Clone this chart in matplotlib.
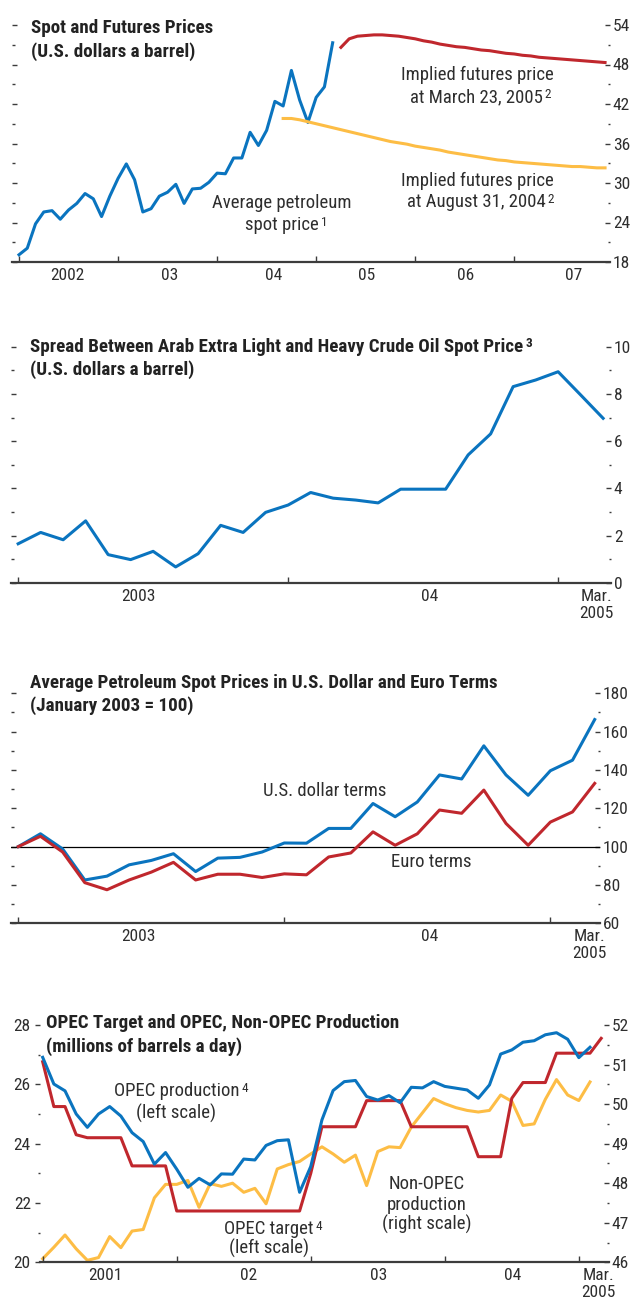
import matplotlib
matplotlib.use('Agg')
import matplotlib.pyplot as plt
import numpy as np
from matplotlib import font_manager as fm

# ---------------- data ----------------
# panel 1, monthly; month 0 = Jan 2002
spot_price = [19.1, 20.1, 23.8, 25.6, 25.8, 24.5, 25.9, 26.9, 28.4, 27.6, 24.9, 28.0,
              30.7, 32.9, 30.5, 25.6, 26.1, 28.0, 28.6, 29.8, 26.9, 29.1, 29.2, 30.1,
              31.5, 31.4, 33.8, 33.8, 37.7, 35.7, 38.0, 42.4, 41.7, 47.1, 42.6, 39.2,
              43.0, 44.6, 51.3]
futures_mar05 = [50.6, 51.9, 52.3, 52.4, 52.5, 52.5, 52.4, 52.3, 52.1, 51.9,
                 51.6, 51.4, 51.1, 50.9, 50.7, 50.6, 50.4, 50.2, 50.1, 49.9,
                 49.7, 49.6, 49.4, 49.3, 49.1, 49.0, 48.9, 48.8, 48.7, 48.6,
                 48.5, 48.4, 48.3]  # Apr 2005 - Dec 2007
futures_aug04 = [39.8, 39.8, 39.6, 39.3, 39.0, 38.7, 38.4, 38.1, 37.8, 37.5,
                 37.2, 36.9, 36.6, 36.3, 36.1, 35.9, 35.6, 35.4, 35.2, 35.0,
                 34.7, 34.5, 34.3, 34.1, 33.9, 33.7, 33.5, 33.4, 33.2, 33.1,
                 33.0, 32.9, 32.8, 32.7, 32.6, 32.5, 32.5, 32.4, 32.3, 32.3]  # Sep 2004 - Dec 2007
p1_years = ['2002', '03', '04', '05', '06', '07']

# panel 2, month 0 = Jan 2003
spread = [1.66, 2.14, 1.83, 2.63, 1.20, 0.99, 1.34, 0.68, 1.24, 2.44, 2.14, 2.99,
          3.30, 3.83, 3.59, 3.51, 3.39, 3.97, 3.97, 3.97, 5.42, 6.31, 8.31, 8.59,
          8.94, 7.96, 6.97]

# panel 3, month 0 = Jan 2003
usd_index = [100.0, 106.7, 98.8, 82.6, 84.6, 90.5, 92.8, 96.3, 87.0, 94.0, 94.4, 97.2,
             101.9, 101.8, 109.5, 109.5, 122.5, 115.6, 123.3, 137.4, 135.3, 152.6,
             137.4, 126.8, 139.6, 145.1, 166.3]
euro_index = [100.0, 105.4, 97.2, 81.2, 77.5, 82.6, 86.7, 91.8, 82.6, 85.6, 85.6, 83.9,
              85.8, 85.3, 94.6, 96.7, 107.7, 100.7, 106.7, 119.1, 117.4, 129.5,
              112.1, 100.7, 112.8, 118.1, 133.0]
p23_years = ['2003', '04', 'Mar.\n2005']

# panel 4, month 0 = Jan 2001
opec_prod = [26.91, 26.01, 25.78, 25.00, 24.55, 25.00, 25.25, 24.93, 24.37, 24.07,
             23.31, 23.70, 23.14, 22.53, 22.83, 22.61, 22.98, 22.97, 23.48, 23.45,
             23.94, 24.10, 24.13, 22.36, 23.23, 24.80, 25.79, 26.09, 26.13, 25.59,
             25.47, 25.62, 25.38, 25.90, 25.88, 26.09, 25.93, 25.87, 25.81, 25.53,
             25.98, 27.02, 27.16, 27.42, 27.47, 27.67, 27.74, 27.52, 26.90, 27.25]
opec_target = [26.76, 25.25, 25.25, 24.3, 24.2, 24.2, 24.2, 24.2, 23.25, 23.25,
               23.25, 23.25, 21.73, 21.73, 21.73, 21.73, 21.73, 21.73, 21.73, 21.73,
               21.73, 21.73, 21.73, 21.73, 23.0, 24.57, 24.57, 24.57, 24.57, 25.45,
               25.45, 25.45, 25.45, 24.57, 24.57, 24.57, 24.57, 24.57, 24.57, 23.56,
               23.56, 23.56, 25.53, 26.06, 26.06, 26.06, 27.05, 27.05, 27.05, 27.05,
               27.55]
non_opec = [46.09, 46.38, 46.69, 46.34, 46.05, 46.12, 46.65, 46.37, 46.79, 46.83,
            47.63, 47.97, 47.97, 48.07, 47.39, 47.99, 47.92, 48.00, 47.77, 47.87,
            47.48, 48.36, 48.47, 48.55, 48.74, 48.92, 48.74, 48.53, 48.71, 47.94,
            48.80, 48.92, 48.90, 49.42, 49.78, 50.14, 50.01, 49.91, 49.84, 49.80,
            49.84, 50.23, 50.07, 49.46, 49.50, 50.12, 50.62, 50.23, 50.09, 50.56]
p4_years = ['2001', '02', '03', '04', 'Mar.\n2005']

# ---------------- fonts ----------------
names = {f.name for f in fm.fontManager.ttflist}
FONT, NARROW = 'Liberation Sans', False
for cand in ['Liberation Sans Narrow', 'Roboto Condensed', 'DejaVu Sans Condensed',
             'Open Sans Condensed']:
    if cand in names:
        FONT, NARROW = cand, True
        break
plt.rcParams['font.family'] = [FONT, 'DejaVu Sans']
k = 1.0 if NARROW else 0.86
TTL, ANN, TICK, SUP = 13.7 * k, 13.5 * k, 12.5 * k, 9.5 * k

BLUE, RED, YEL = '#0a74bf', '#c0272d', '#fdbd45'
TXT, AXC = '#2e2e2e', '#3c3c3c'
LW = 2.2

W, H = 637, 1309
fig = plt.figure(figsize=(W / 100, H / 100), dpi=100)


def rect(l, t, r, b):
    return [l / W, 1 - b / H, (r - l) / W, (b - t) / H]


def ftext(x, y, s, **kw):
    # x, y in pixels from the top-left; y is the baseline
    kw.setdefault('color', TXT)
    return fig.text(x / W, 1 - y / H, s, va='baseline', **kw)


def note(ax, x, y, s, sup=None):
    t = ftext(x, y, s, ha='center', fontsize=ANN)
    if sup:
        ax.annotate(sup, xy=(1, 1), xycoords=t, xytext=(1.5, 0), textcoords='offset points',
                    ha='left', va='top', fontsize=SUP, color=TXT, annotation_clip=False)
    return t


def style(ax, xlim, ylim, ymaj, ymin, xmaj, labpos, labs, yside='right'):
    ax.set_xlim(*xlim)
    ax.set_ylim(*ylim)
    ax.patch.set_visible(False)
    for s in ['left', 'right', 'top']:
        ax.spines[s].set_visible(False)
    ax.spines['bottom'].set_color(AXC)
    ax.spines['bottom'].set_linewidth(1.6)
    ax.set_xticks(xmaj)
    ax.set_xticks(labpos, labels=labs, minor=True)
    ax.tick_params(axis='x', which='major', direction='in', length=4.5, width=1,
                   color=AXC, labelbottom=False)
    ax.tick_params(axis='x', which='minor', length=0, pad=4, labelsize=TICK,
                   labelcolor=TXT)
    ax.set_yticks(ymaj)
    ax.set_yticks(ymin, minor=True)
    if yside == 'right':
        ax.tick_params(axis='y', which='both', left=True, right=True, direction='in',
                       width=1, color=AXC, labelleft=False, labelright=True,
                       labelsize=TICK, labelcolor=TXT, pad=2)
    ax.tick_params(axis='y', which='major', length=3.6)
    ax.tick_params(axis='y', which='minor', length=1.8)


# ---------------- panel 1 ----------------
ax1 = fig.add_axes(rect(12, 25, 610, 262))
ax1.plot(np.arange(len(spot_price)), spot_price, color=BLUE, lw=LW)
ax1.plot(np.arange(39, 39 + len(futures_mar05)), futures_mar05, color=RED, lw=LW)
ax1.plot(np.arange(32, 32 + len(futures_aug04)), futures_aug04, color=YEL, lw=LW)
style(ax1, (-0.85, 71.6), (18, 54), np.arange(18, 55, 6), np.arange(21, 55, 6),
      np.arange(0, 61, 12), [5.9, 18.3, 30.8, 42.1, 54.1, 67.2], p1_years)
ftext(31, 33, 'Spot and Futures Prices', ha='left', fontsize=TTL, weight='bold', color='#222')
ftext(31, 56.5, '(U.S. dollars a barrel)', ha='left', fontsize=TTL, weight='bold', color='#222')
note(ax1, 282, 208, 'Average petroleum')
note(ax1, 282, 230, 'spot price', '1')
note(ax1, 477, 80, 'Implied futures price')
note(ax1, 476, 102, 'at March 23, 2005', '2')
note(ax1, 477, 186, 'Implied futures price')
note(ax1, 476, 207, 'at August 31, 2004', '2')

# ---------------- panel 2 ----------------
ax2 = fig.add_axes(rect(11.4, 346.7, 611, 583))
ax2.plot(np.arange(len(spread)), spread, color=BLUE, lw=LW)
style(ax2, (-0.3, 26.35), (0, 10), np.arange(0, 11, 2), np.arange(1, 10, 2),
      [0, 12, 24], [5.36, 18.3, 25.7], p23_years)
t = ftext(30, 352, 'Spread Between Arab Extra Light and Heavy Crude Oil Spot Price',
          ha='left', fontsize=TTL, weight='bold', color='#222')
ax2.annotate('3', xy=(1, 1), xycoords=t, xytext=(1.5, 1), textcoords='offset points',
             ha='left', va='top', fontsize=SUP, weight='bold', color='#222',
             annotation_clip=False)
ftext(30, 375, '(U.S. dollars a barrel)', ha='left', fontsize=TTL, weight='bold', color='#222')

# ---------------- panel 3 ----------------
ax3 = fig.add_axes(rect(11.4, 693.3, 600, 923.3))
ax3.axhline(100, color='black', lw=0.9)
ax3.plot(np.arange(len(usd_index)), usd_index, color=BLUE, lw=LW)
ax3.plot(np.arange(len(euro_index)), euro_index, color=RED, lw=LW)
style(ax3, (-0.31, 26.24), (60, 180), np.arange(60, 181, 20), np.arange(70, 180, 20),
      [0, 12, 24], [5.44, 18.55, 25.75], p23_years)
ftext(30, 688, 'Average Petroleum Spot Prices in U.S. Dollar and Euro Terms',
      ha='left', fontsize=TTL, weight='bold', color='#222')
ftext(30, 711, '(January 2003 = 100)', ha='left', fontsize=TTL, weight='bold', color='#222')
note(ax3, 325, 796, 'U.S. dollar terms')
note(ax3, 431, 867, 'Euro terms')

# ---------------- panel 4 ----------------
ax4 = fig.add_axes(rect(40, 1025, 609, 1262.3))
ax4.plot(np.arange(len(opec_target)), opec_target, color=RED, lw=LW, zorder=3)
ax4.plot(np.arange(len(opec_prod)), opec_prod, color=BLUE, lw=LW, zorder=4)
style(ax4, (-0.24, 50.7), (20, 28), np.arange(20, 29, 2), np.arange(21, 28, 2),
      [0, 12, 24, 36, 48], [5.58, 18.4, 30.1, 42.1, 49.75], p4_years, yside='left')
ax4.tick_params(axis='y', which='both', left=True, right=False, direction='out',
                width=1, color=AXC, labelleft=True, labelright=False,
                labelsize=TICK, labelcolor=TXT, pad=3)
ax4.tick_params(axis='y', which='major', length=3.6)
ax4.tick_params(axis='y', which='minor', length=1.8)

ax4r = ax4.twinx()
ax4r.plot(np.arange(len(non_opec)), non_opec, color=YEL, lw=LW, zorder=2)
ax4r.set_ylim(46, 52)
for s in ['left', 'right', 'top', 'bottom']:
    ax4r.spines[s].set_visible(False)
ax4r.set_yticks(np.arange(46, 53, 1))
ax4r.set_yticks(np.arange(46.5, 52, 1), minor=True)
ax4r.tick_params(axis='y', which='both', direction='in', width=1, color=AXC,
                 labelsize=TICK, labelcolor=TXT, pad=2)
ax4r.tick_params(axis='y', which='major', length=3.6)
ax4r.tick_params(axis='y', which='minor', length=1.8)
ax4.set_zorder(ax4r.get_zorder() + 1)

ftext(46, 1028, 'OPEC Target and OPEC, Non-OPEC Production', ha='left',
      fontsize=TTL, weight='bold', color='#222')
ftext(46, 1051.5, '(millions of barrels a day)', ha='left', fontsize=TTL,
      weight='bold', color='#222')
note(ax4, 176.5, 1096, 'OPEC production', '4')
note(ax4, 176.5, 1119, '(left scale)')
note(ax4, 269, 1234, 'OPEC target', '4')
note(ax4, 269, 1254, '(left scale)')
note(ax4, 426.5, 1189, 'Non-OPEC')
note(ax4, 426.5, 1210, 'production')
note(ax4, 426.5, 1230, '(right scale)')

fig.savefig('out.png', dpi=100)
